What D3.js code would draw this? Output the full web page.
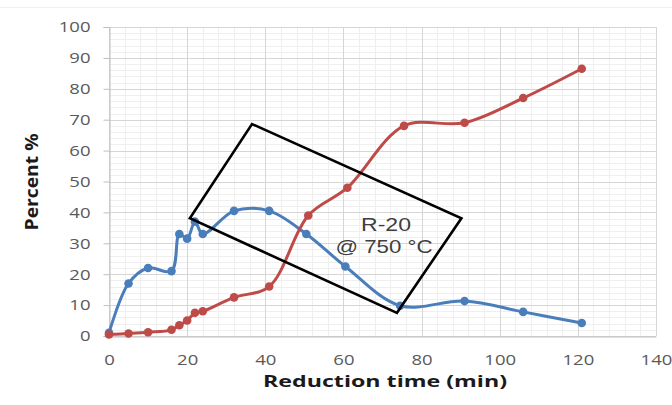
<!DOCTYPE html>
<html>
<head>
<meta charset="utf-8">
<script src="https://cdn.jsdelivr.net/npm/d3@7"></script>
<style>
  html, body { margin: 0; padding: 0; background: #ffffff; }
  svg { display: block; }
</style>
</head>
<body>
<svg id="chart" width="672" height="405"></svg>
<script>
// ---- data ----
const blueTime  = [0, 5, 10, 16, 18, 20, 22, 24, 32, 41, 50.5, 60.5, 74.5, 91, 106, 121];
const blueValue = [1, 17, 22, 21, 33, 31.5, 37, 33, 40.5, 40.5, 33, 22.5, 9.8, 11.3, 7.8, 4.2];
const redTime   = [0, 5, 10, 16, 18, 20, 22, 24, 32, 41, 51, 61, 75.5, 91, 106, 121];
const redValue  = [0.5, 0.8, 1.2, 2, 3.5, 5, 7.5, 8, 12.5, 16, 39, 48, 68, 69, 77, 86.5];
const xTicks = [0, 20, 40, 60, 80, 100, 120, 140];
const yTicks = [0, 10, 20, 30, 40, 50, 60, 70, 80, 90, 100];
// annotation box corners, in data units (time, percent)
const boxTime    = [20.7, 36.6, 90.2, 73.7];
const boxPercent = [38.1, 68.6, 38.1, 7.5];
const boxLines = ["R-20", "@ 750 °C"];
const xTitle = "Reduction time (min)";
const yTitle = "Percent %";

(function () {
// ---- layout ----
const svg = d3.select("#chart");
const pL = 109, pR = 656, pT = 27, pB = 336;
const x = d3.scaleLinear().domain([0, 140]).range([pL, pR]);
const y = d3.scaleLinear().domain([0, 100]).range([pB, pT]);

// faint chart border line at top
svg.append("line").attr("x1", 0).attr("x2", 672).attr("y1", 7.5).attr("y2", 7.5)
  .attr("stroke", "#f0f0f0").attr("stroke-width", 1);

// minor grid
const g = svg.append("g");
d3.range(0, 141, 4).forEach(v => {
  g.append("line").attr("x1", Math.round(x(v)) + 0.5).attr("x2", Math.round(x(v)) + 0.5).attr("y1", pT).attr("y2", pB)
    .attr("stroke", "#efefef").attr("stroke-width", 1);
});
d3.range(0, 101, 2).forEach(v => {
  g.append("line").attr("x1", pL).attr("x2", pR).attr("y1", Math.round(y(v)) + 0.5).attr("y2", Math.round(y(v)) + 0.5)
    .attr("stroke", "#efefef").attr("stroke-width", 1);
});
// major grid
xTicks.forEach(v => {
  g.append("line").attr("x1", Math.round(x(v)) + 0.5).attr("x2", Math.round(x(v)) + 0.5).attr("y1", pT).attr("y2", pB)
    .attr("stroke", "#d6d6d6").attr("stroke-width", 1);
});
yTicks.forEach(v => {
  g.append("line").attr("x1", pL).attr("x2", pR).attr("y1", Math.round(y(v)) + 0.5).attr("y2", Math.round(y(v)) + 0.5)
    .attr("stroke", "#d6d6d6").attr("stroke-width", 1);
});

// axes
const yAxis = d3.axisLeft(y).tickValues(yTicks).tickSize(6).tickPadding(13);
const xAxis = d3.axisBottom(x).tickValues(xTicks).tickSize(0).tickPadding(18);
const ya = svg.append("g").attr("transform", `translate(${pL + 0.5},0)`).call(yAxis);
const xa = svg.append("g").attr("transform", `translate(0,${pB + 0.5})`).call(xAxis);
[ya, xa].forEach(a => {
  a.select(".domain").attr("stroke", "#bfbfbf");
  a.selectAll(".tick line").attr("stroke", "#bfbfbf");
  a.selectAll(".tick text").attr("fill", "#595959")
    .style("font-family", "'Open Sans', sans-serif").style("font-size", "15px")
    .attr("textLength", function () { return this.textContent.length * 10.6; })
    .attr("lengthAdjust", "spacingAndGlyphs");
});

// lines
const line = d3.line().x(d => x(d[0])).y(d => y(d[1])).curve(d3.curveCatmullRom.alpha(0.5));
const blue = blueTime.map((t, i) => [t, blueValue[i]]);
const red = redTime.map((t, i) => [t, redValue[i]]);
const series = [
  { data: blue, color: "#4a7ebb" },
  { data: red, color: "#be4b48" }
];
series.forEach(s => {
  svg.append("path").datum(s.data).attr("d", line)
    .attr("fill", "none").attr("stroke", s.color).attr("stroke-width", 3)
    .attr("stroke-linejoin", "round");
  svg.append("g").selectAll("circle").data(s.data).join("circle")
    .attr("cx", d => x(d[0])).attr("cy", d => y(d[1])).attr("r", 4.3)
    .attr("fill", s.color);
});

// annotation box
const boxPts = boxTime.map((t, i) => [x(t), y(boxPercent[i])]);
svg.append("polygon").attr("points", boxPts.map(p => p.join(",")).join(" "))
  .attr("fill", "none").attr("stroke", "#000").attr("stroke-width", 2.6)
  .attr("stroke-linejoin", "miter");
svg.append("text").attr("x", 386).attr("y", 231).attr("text-anchor", "middle")
  .attr("fill", "#404040").style("font-family", "'Liberation Sans', Arial, sans-serif")
  .style("font-size", "19px").attr("textLength", 50).attr("lengthAdjust", "spacingAndGlyphs")
  .text(boxLines[0]);
svg.append("text").attr("x", 384).attr("y", 253).attr("text-anchor", "middle")
  .attr("fill", "#404040").style("font-family", "'Liberation Sans', Arial, sans-serif")
  .style("font-size", "19px").attr("textLength", 97).attr("lengthAdjust", "spacingAndGlyphs")
  .text(boxLines[1]);

// axis titles
svg.append("text").attr("x", 385).attr("y", 387).attr("text-anchor", "middle")
  .attr("fill", "#1a1a1a").style("font-family", "'Open Sans', sans-serif")
  .style("font-weight", "bold").style("font-size", "16px")
  .attr("textLength", 244).attr("lengthAdjust", "spacingAndGlyphs")
  .text(xTitle);
svg.append("text").attr("transform", "translate(38,182) rotate(-90)").attr("text-anchor", "middle")
  .attr("fill", "#1a1a1a").style("font-family", "'Open Sans', sans-serif")
  .style("font-weight", "bold").style("font-size", "17px")
  .attr("textLength", 97).attr("lengthAdjust", "spacingAndGlyphs")
  .text(yTitle);
})();
</script>
</body>
</html>
